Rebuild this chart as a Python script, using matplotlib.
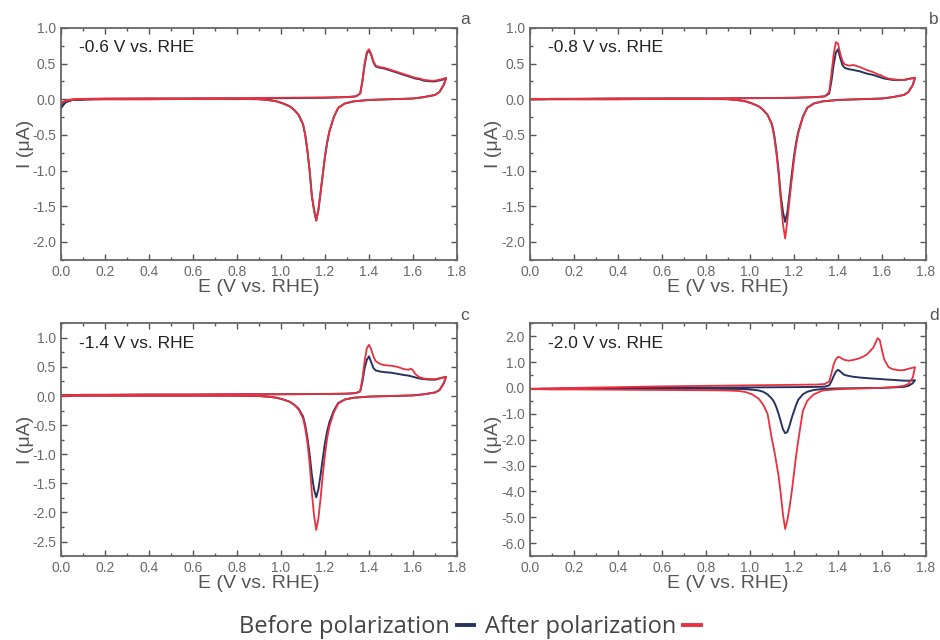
import matplotlib
matplotlib.use("Agg")
import matplotlib.pyplot as plt
from matplotlib.lines import Line2D
from matplotlib.ticker import MultipleLocator, FormatStrFormatter

plt.rcParams["font.family"] = ["Liberation Sans", "DejaVu Sans"]
plt.rcParams["axes.unicode_minus"] = False

# potential grids (V vs. RHE): anodic sweep and cathodic sweep
e_fwd = [0.00, 0.02, 0.05, 0.10, 0.20, 0.40, 0.60, 0.80, 1.00, 1.20, 1.30, 1.34, 1.36, 1.37,
         1.38, 1.39, 1.40, 1.41, 1.42, 1.43, 1.45, 1.47, 1.50, 1.53, 1.56, 1.58, 1.59, 1.60,
         1.61, 1.63, 1.65, 1.68, 1.70, 1.73, 1.75]
e_rev = [1.75, 1.74, 1.72, 1.70, 1.65, 1.60, 1.50, 1.40, 1.33, 1.29, 1.26, 1.24, 1.22, 1.21,
         1.20, 1.19, 1.18, 1.17, 1.16, 1.15, 1.14, 1.13, 1.12, 1.11, 1.10, 1.08, 1.06, 1.04,
         1.01, 0.98, 0.95, 0.90, 0.80, 0.60, 0.40, 0.20, 0.10, 0.05, 0.02, 0.00]

# panel a: -0.6 V vs. RHE (current in uA)
a_before_fwd = [-0.12, -0.04, -0.01, 0.00, 0.005, 0.01, 0.01, 0.01, 0.015, 0.02, 0.03, 0.04, 0.08, 0.25,
                0.48, 0.64, 0.69, 0.62, 0.52, 0.46, 0.44, 0.43, 0.40, 0.37, 0.34, 0.32, 0.31, 0.30,
                0.29, 0.28, 0.26, 0.25, 0.25, 0.27, 0.29]
a_before_rev = [0.29, 0.20, 0.10, 0.06, 0.03, 0.01, 0.00, -0.01, -0.03, -0.06, -0.12, -0.25, -0.45, -0.60,
                -0.80, -1.05, -1.30, -1.55, -1.70, -1.55, -1.35, -1.00, -0.72, -0.50, -0.35, -0.22, -0.15, -0.10,
                -0.06, -0.03, -0.015, 0.00, 0.005, 0.005, 0.00, 0.00, -0.005, -0.01, -0.04, -0.12]
a_after_fwd = [-0.06, -0.02, 0.00, 0.005, 0.01, 0.01, 0.01, 0.015, 0.02, 0.025, 0.03, 0.04, 0.08, 0.26,
               0.50, 0.66, 0.70, 0.63, 0.53, 0.47, 0.45, 0.44, 0.41, 0.38, 0.35, 0.33, 0.32, 0.31,
               0.30, 0.29, 0.27, 0.26, 0.26, 0.28, 0.30]
a_after_rev = [0.30, 0.21, 0.10, 0.06, 0.03, 0.01, 0.00, -0.01, -0.03, -0.06, -0.12, -0.25, -0.45, -0.60,
               -0.80, -1.05, -1.30, -1.55, -1.70, -1.55, -1.35, -1.00, -0.72, -0.50, -0.35, -0.22, -0.15, -0.10,
               -0.06, -0.03, -0.015, 0.00, 0.005, 0.005, 0.00, 0.00, 0.00, -0.01, -0.02, -0.06]

# panel b: -0.8 V vs. RHE
b_before_fwd = [0.00, 0.00, 0.00, 0.005, 0.005, 0.01, 0.01, 0.01, 0.015, 0.02, 0.03, 0.04, 0.08, 0.25,
                0.48, 0.65, 0.70, 0.58, 0.48, 0.44, 0.42, 0.41, 0.39, 0.36, 0.34, 0.32, 0.31, 0.30,
                0.29, 0.28, 0.27, 0.27, 0.27, 0.29, 0.30]
b_before_rev = [0.30, 0.20, 0.10, 0.06, 0.03, 0.01, 0.00, -0.01, -0.03, -0.06, -0.12, -0.25, -0.45, -0.60,
                -0.80, -1.05, -1.32, -1.58, -1.72, -1.58, -1.35, -1.00, -0.72, -0.50, -0.35, -0.22, -0.15, -0.10,
                -0.06, -0.03, -0.015, 0.00, 0.005, 0.005, 0.00, 0.00, 0.00, 0.00, 0.00, 0.00]
b_after_fwd = [0.00, 0.00, 0.00, 0.005, 0.005, 0.01, 0.01, 0.01, 0.015, 0.02, 0.03, 0.04, 0.10, 0.35,
               0.62, 0.80, 0.78, 0.64, 0.54, 0.49, 0.47, 0.48, 0.45, 0.41, 0.38, 0.35, 0.34, 0.33,
               0.31, 0.29, 0.28, 0.27, 0.27, 0.29, 0.30]
b_after_rev = [0.30, 0.20, 0.10, 0.06, 0.03, 0.01, 0.00, -0.01, -0.03, -0.06, -0.12, -0.25, -0.47, -0.63,
               -0.85, -1.12, -1.40, -1.70, -1.95, -1.75, -1.42, -1.05, -0.75, -0.52, -0.36, -0.22, -0.15, -0.10,
               -0.06, -0.03, -0.015, 0.00, 0.005, 0.005, 0.00, 0.00, 0.00, 0.00, 0.00, 0.00]

# panel c: -1.4 V vs. RHE
c_before_fwd = [0.01, 0.01, 0.015, 0.02, 0.02, 0.025, 0.025, 0.03, 0.03, 0.035, 0.04, 0.05, 0.08, 0.25,
                0.48, 0.62, 0.68, 0.58, 0.48, 0.44, 0.42, 0.41, 0.40, 0.38, 0.36, 0.35, 0.34, 0.33,
                0.32, 0.30, 0.29, 0.28, 0.28, 0.31, 0.33]
c_before_rev = [0.33, 0.22, 0.10, 0.06, 0.03, 0.01, 0.00, -0.01, -0.03, -0.06, -0.12, -0.25, -0.45, -0.60,
                -0.80, -1.07, -1.35, -1.60, -1.74, -1.60, -1.35, -1.00, -0.72, -0.50, -0.35, -0.22, -0.15, -0.10,
                -0.06, -0.03, -0.015, 0.00, 0.005, 0.005, 0.005, 0.005, 0.005, 0.005, 0.005, 0.005]
c_after_fwd = [0.01, 0.01, 0.015, 0.02, 0.02, 0.025, 0.025, 0.03, 0.03, 0.035, 0.04, 0.05, 0.08, 0.30,
               0.60, 0.82, 0.88, 0.80, 0.68, 0.60, 0.55, 0.53, 0.52, 0.50, 0.46, 0.45, 0.47, 0.44,
               0.38, 0.32, 0.30, 0.29, 0.29, 0.31, 0.33]
c_after_rev = [0.33, 0.22, 0.10, 0.06, 0.03, 0.01, 0.00, -0.01, -0.03, -0.06, -0.13, -0.28, -0.52, -0.72,
               -1.00, -1.35, -1.75, -2.10, -2.30, -2.05, -1.65, -1.15, -0.80, -0.55, -0.38, -0.23, -0.15, -0.10,
               -0.06, -0.03, -0.015, 0.00, 0.005, 0.005, 0.005, 0.005, 0.005, 0.005, 0.005, 0.005]

# panel d: -2.0 V vs. RHE
d_before_fwd = [-0.04, -0.04, -0.03, -0.03, -0.02, -0.01, 0.00, 0.01, 0.02, 0.03, 0.04, 0.05, 0.10, 0.25,
                0.45, 0.62, 0.70, 0.64, 0.56, 0.50, 0.46, 0.43, 0.40, 0.38, 0.36, 0.35, 0.34, 0.34,
                0.33, 0.32, 0.31, 0.29, 0.28, 0.28, 0.30]
d_before_rev = [0.30, 0.18, 0.08, 0.04, 0.02, 0.00, -0.01, -0.02, -0.04, -0.08, -0.15, -0.25, -0.45, -0.65,
                -0.90, -1.15, -1.45, -1.70, -1.75, -1.60, -1.30, -1.00, -0.75, -0.55, -0.42, -0.25, -0.15, -0.10,
                -0.07, -0.05, -0.04, -0.04, -0.03, -0.03, -0.03, -0.03, -0.04, -0.04, -0.04, -0.04]
d_after_fwd = [-0.05, -0.04, -0.03, -0.02, 0.00, 0.03, 0.06, 0.08, 0.10, 0.12, 0.13, 0.15, 0.25, 0.55,
               0.90, 1.10, 1.20, 1.18, 1.12, 1.08, 1.05, 1.08, 1.15, 1.28, 1.55, 1.92, 1.85, 1.45,
               1.10, 0.80, 0.72, 0.68, 0.69, 0.76, 0.80]
d_after_rev = [0.80, 0.40, 0.15, 0.08, 0.03, 0.00, -0.02, -0.05, -0.10, -0.25, -0.50, -0.90, -2.00, -2.60,
               -3.30, -4.00, -4.60, -5.10, -5.45, -4.90, -4.10, -3.40, -2.90, -2.40, -2.00, -1.00, -0.65, -0.42,
               -0.25, -0.16, -0.12, -0.10, -0.09, -0.08, -0.07, -0.06, -0.06, -0.05, -0.05, -0.05]

labels = ["-0.6 V vs. RHE", "-0.8 V vs. RHE", "-1.4 V vs. RHE", "-2.0 V vs. RHE"]
letters = ["a", "b", "c", "d"]
before = [(a_before_fwd, a_before_rev), (b_before_fwd, b_before_rev),
          (c_before_fwd, c_before_rev), (d_before_fwd, d_before_rev)]
after = [(a_after_fwd, a_after_rev), (b_after_fwd, b_after_rev),
         (c_after_fwd, c_after_rev), (d_after_fwd, d_after_rev)]
ylims = [(-2.25, 1.0), (-2.25, 1.0), (-2.75, 1.25), (-6.5, 2.5)]
ysteps = [0.5, 0.5, 0.5, 1.0]

navy = "#27335f"
red = "#e8303f"
grey = "#555555"

fig = plt.figure(figsize=(9.4, 6.4), dpi=100)
# axes boxes [left, bottom, width, height] in figure fraction
boxes = [[0.0649, 0.594, 0.4213, 0.3625], [0.5638, 0.594, 0.4213, 0.3625],
         [0.0649, 0.131, 0.4213, 0.364], [0.5638, 0.131, 0.4213, 0.364]]

for i in range(4):
    ax = fig.add_axes(boxes[i])
    ax.plot(e_fwd + e_rev, before[i][0] + before[i][1], color=navy, lw=1.4)
    ax.plot(e_fwd + e_rev, after[i][0] + after[i][1], color=red, lw=1.3)

    ax.set_xlim(0, 1.8)
    ax.set_ylim(*ylims[i])
    ax.xaxis.set_major_locator(MultipleLocator(0.2))
    ax.xaxis.set_minor_locator(MultipleLocator(0.1))
    ax.yaxis.set_major_locator(MultipleLocator(ysteps[i]))
    ax.yaxis.set_minor_locator(MultipleLocator(ysteps[i] / 2))
    ax.xaxis.set_major_formatter(FormatStrFormatter("%.1f"))
    ax.yaxis.set_major_formatter(FormatStrFormatter("%.1f"))
    ax.tick_params(which="both", direction="in", top=True, right=True,
                   color=grey, labelcolor="#6a6a6a", labelsize=10, width=1)
    ax.tick_params(which="major", length=4.5)
    ax.tick_params(which="minor", length=2.5)
    for sp in ax.spines.values():
        sp.set_color("#666666")
        sp.set_linewidth(1.3)

    ax.set_xlabel("E (V vs. RHE)", fontsize=14, color=grey, labelpad=0)
    ax.set_ylabel("I (μA)", fontsize=14, color=grey, labelpad=-1)
    ax.text(0.045, 0.915, labels[i], transform=ax.transAxes, fontsize=12.5,
            ha="left", va="center", color="#222222")
    ax.text(1.02, 1.035, letters[i], transform=ax.transAxes, fontsize=12.5,
            ha="center", va="center", color=grey)

# legend at the bottom, with the line sample after the text
handles = [Line2D([], [], color=navy, lw=2.8), Line2D([], [], color=red, lw=2.8)]
fig.legend(handles, ["Before polarization", "After polarization"], loc="center",
           bbox_to_anchor=(0.5, 0.02), ncol=2, frameon=False, markerfirst=False,
           handlelength=0.75, handletextpad=0.3, columnspacing=0.45,
           prop={"family": "Open Sans", "size": 17}, labelcolor="#444444")

plt.savefig("out.png", dpi=100)
